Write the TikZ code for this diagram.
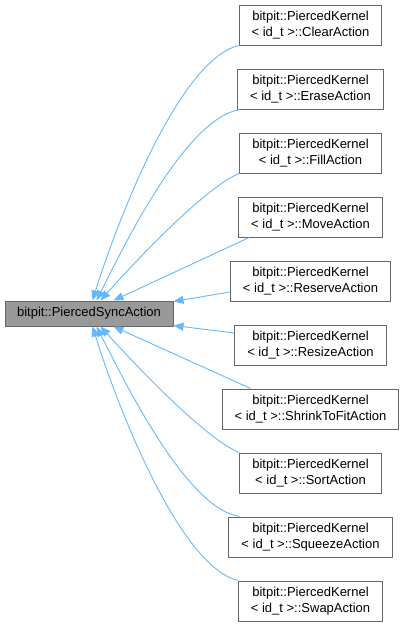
\documentclass[tikz,border=0pt]{standalone}
\usepackage{fontspec}
\setmainfont{Liberation Sans}
\usetikzlibrary{
    arrows.meta,
    calc
}
\definecolor{edgeblue}{HTML}{63B8FF}
\definecolor{boxgray}{HTML}{666666}
\definecolor{basefill}{HTML}{999999}
\tikzset{
  every node/.style={
    font=\fontsize{13}{15.7}\selectfont
  },
  kernelbox/.style={
    draw=boxgray,
    fill=white,
    line width=1pt,
    align=center,
    inner xsep=12.5pt,
    minimum height=40pt
  },
  basebox/.style={
    draw=boxgray,
    fill=basefill,
    line width=1pt,
    inner xsep=11pt,
    minimum width=168pt,
    minimum height=25pt
  },
  edge/.style={
    edgeblue,
    line width=0.9pt,
    -{Triangle[length=10pt,width=8pt]}
  }
}

\begin{document}
\begin{tikzpicture}[x=1pt,y=-1pt]
    \useasboundingbox (0,0) rectangle (405,627);

    % base class
    \node[basebox] (base) at (89,313.5) {bitpit::PiercedSyncAction};

    % derived actions
    \node[kernelbox] (clear)   at (310.5,25)  {bitpit::PiercedKernel\\< id\_t >::ClearAction};
    \node[kernelbox] (erase)   at (310.5,89)  {bitpit::PiercedKernel\\< id\_t >::EraseAction};
    \node[kernelbox] (fill)    at (310.5,153) {bitpit::PiercedKernel\\< id\_t >::FillAction};
    \node[kernelbox] (move)    at (310.5,217) {bitpit::PiercedKernel\\< id\_t >::MoveAction};
    \node[kernelbox] (reserve) at (310.5,281) {bitpit::PiercedKernel\\< id\_t >::ReserveAction};
    \node[kernelbox] (resize)  at (310.5,345) {bitpit::PiercedKernel\\< id\_t >::ResizeAction};
    \node[kernelbox] (shrink)  at (310.5,409) {bitpit::PiercedKernel\\< id\_t >::ShrinkToFitAction};
    \node[kernelbox] (sort)    at (310.5,473) {bitpit::PiercedKernel\\< id\_t >::SortAction};
    \node[kernelbox] (squeeze) at (310.5,537) {bitpit::PiercedKernel\\< id\_t >::SqueezeAction};
    \node[kernelbox] (swap)    at (310.5,601) {bitpit::PiercedKernel\\< id\_t >::SwapAction};

    % inheritance edges
    \draw[edge] (clear.south west) .. controls (180,60) and (119,216) .. ([xshift=88pt]base.north west);
    \draw[edge] ([xshift=3pt]erase.south west) .. controls (185,118) and (122,250) .. ([xshift=92pt]base.north west);
    \draw[edge] (fill.south west) .. controls (210,185) and (150,245) .. ([xshift=96pt]base.north west);
    \draw[edge] ([xshift=11pt]move.south west) -- ([xshift=109pt]base.north west);
    \draw[edge] ([yshift=-11pt]reserve.west) -- ([yshift=-1pt]base.north east);
    \draw[edge] ([yshift=12pt]resize.west) -- ([yshift=1pt]base.south east);
    \draw[edge] ([xshift=29pt]shrink.north west) -- ([xshift=109pt]base.south west);
    \draw[edge] (sort.north west) .. controls (210,441) and (150,381) .. ([xshift=96pt]base.south west);
    \draw[edge] ([xshift=11pt]squeeze.north west) .. controls (185,508) and (122,376) .. ([xshift=92pt]base.south west);
    \draw[edge] (swap.north west) .. controls (180,566) and (119,411) .. ([xshift=88pt]base.south west);
\end{tikzpicture}
\end{document}
